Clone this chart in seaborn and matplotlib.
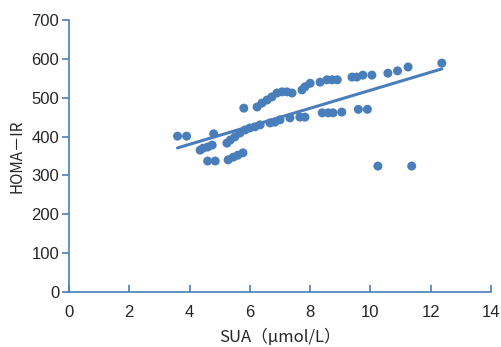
import matplotlib
matplotlib.use("Agg")
import matplotlib.pyplot as plt
import seaborn as sns
import numpy as np
import pandas as pd

sua = [3.6, 3.9, 4.35, 4.45, 4.6, 4.75, 4.8, 4.6, 4.85,
       5.28, 5.45, 5.6, 5.77,
       5.24, 5.35, 5.5, 5.67, 5.84, 6.0, 6.17, 6.34, 6.67, 6.83, 7.0, 7.33, 7.66, 7.83,
       5.8, 6.24, 6.4, 6.57, 6.73, 6.9, 7.07, 7.23, 7.4, 7.73, 7.83, 8.0, 8.33, 8.56, 8.73, 8.9,
       9.39, 9.55, 9.75, 10.05, 10.58, 10.9, 11.25, 12.37,
       8.4, 8.6, 8.76, 9.05, 9.6, 9.9,
       10.25, 11.37]
homa = [401, 401, 365, 370, 373, 378, 407, 337, 337,
        340, 347, 352, 358,
        383, 391, 399, 409, 417, 422, 425, 430, 435, 437, 443, 448, 450, 450,
        473, 476, 486, 494, 502, 512, 515, 515, 512, 520, 528, 537, 540, 546, 546, 546,
        553, 553, 558, 558, 563, 569, 579, 589,
        461, 461, 461, 463, 470, 470,
        324, 324]

df = pd.DataFrame({"SUA": sua, "HOMA": homa})

sns.set_style("white")
plt.rcParams["font.family"] = ["Liberation Sans", "Noto Sans CJK JP", "DejaVu Sans"]

blue = "#4a7ebb"
fig = plt.figure(figsize=(5.02, 3.47), dpi=100)
ax = fig.add_axes([0.1375, 0.1585, 0.8405, 0.784])
sns.regplot(data=df, x="SUA", y="HOMA", ax=ax, ci=None,
            scatter_kws=dict(s=42, color=blue, edgecolor="none", alpha=1),
            line_kws=dict(color=blue, linewidth=2.2))

ax.set_xlim(0, 14)
ax.set_ylim(0, 700)
ax.set_xticks(range(0, 15, 2))
ax.set_yticks(range(0, 701, 100))
for s in ["top", "right"]:
    ax.spines[s].set_visible(False)
for s in ["left", "bottom"]:
    ax.spines[s].set_color(blue)
    ax.spines[s].set_linewidth(1.2)
ax.tick_params(axis="y", left=True, direction="out", length=5, color=blue, width=1.2, labelsize=12, pad=2)
ax.tick_params(axis="x", bottom=True, direction="in", length=5, color=blue, width=1.2, labelsize=12, pad=9)
ax.set_xlabel("SUA（μmol/L）", fontsize=12, family=["Noto Sans CJK JP"], labelpad=7)
ax.set_ylabel("HOMA－IR", fontsize=11, family=["Noto Sans CJK JP"], labelpad=4)
fig.savefig("out.png", dpi=100)
